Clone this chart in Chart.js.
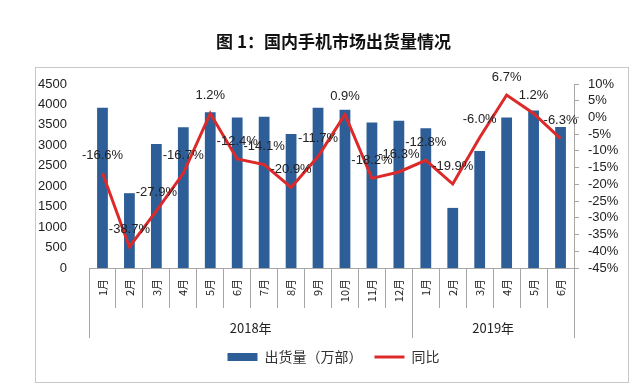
<!DOCTYPE html>
<html>
<head>
<meta charset="utf-8">
<script src="https://cdn.jsdelivr.net/npm/chart.js@4/dist/chart.umd.min.js"></script>
<style>
  html, body { margin: 0; padding: 0; background: #fff; }
  #wrap { width: 643px; height: 387px; position: relative; }
</style>
</head>
<body>
<div id="wrap"><canvas id="chart"></canvas></div>
<script>
// months on the category axis, grouped by year
const months = ["1月", "2月", "3月", "4月", "5月", "6月", "7月", "8月", "9月", "10月", "11月", "12月",
  "1月", "2月", "3月", "4月", "5月", "6月"];
const years = ["2018年", "2019年"];
const yearSpans = [12, 6];

// shipments (10k units) and year-on-year change (%)
const shipments = [3920, 1830, 3030, 3440, 3810, 3680, 3700, 3280, 3920, 3870, 3560, 3600,
  3420, 1470, 2860, 3680, 3850, 3450];
const yoy = [-16.6, -38.7, -27.9, -16.7, 1.2, -12.4, -14.1, -20.9, -11.7, 0.9, -18.2, -16.3,
  -12.8, -19.9, -6.0, 6.7, 1.2, -6.3];

const leftTicks = { min: 0, max: 4500, step: 500 };
const rightTicks = { min: -45, max: 10, step: 5 };

const BAR = "#2e5e98";
const RED = "#dc2a2a";
const TXT = "#222";
const AXIS = "#a6a6a6";
const FONT = "'Liberation Sans', 'Noto Sans CJK SC', sans-serif";
const CJK = "'Noto Sans CJK SC', 'Liberation Sans', sans-serif";

// outer frame, long separators, year labels and line value labels
const decor = {
  id: "decor",
  beforeDraw(chart) {
    const { ctx, width, height } = chart;
    ctx.save();
    ctx.strokeStyle = "#c8c8c8";
    ctx.lineWidth = 1;
    ctx.strokeRect(35.5, 67.5, width - 50, height - 72);
    ctx.restore();
  },
  afterDatasetsDraw(chart) {
    const { ctx } = chart;
    const x = chart.scales.x;
    const bottom = chart.chartArea.bottom;
    const step = x.getPixelForValue(1) - x.getPixelForValue(0);

    // year group separators and labels
    ctx.save();
    ctx.strokeStyle = AXIS;
    ctx.lineWidth = 1;
    ctx.fillStyle = TXT;
    ctx.font = "13px " + CJK;
    ctx.textAlign = "center";
    ctx.textBaseline = "middle";
    let start = 0;
    const edges = [start];
    years.forEach((y, i) => {
      const end = start + yearSpans[i];
      edges.push(end);
      const x0 = x.getPixelForValue(start) - step / 2;
      const x1 = x.getPixelForValue(end - 1) + step / 2;
      ctx.fillText(y, (x0 + x1) / 2, bottom + 60);
      start = end;
    });
    edges.forEach((e) => {
      const px = Math.round(x.getPixelForValue(e) - step / 2) + 0.5;
      ctx.beginPath();
      ctx.moveTo(px, bottom);
      ctx.lineTo(px, bottom + 70);
      ctx.stroke();
    });
    ctx.restore();

    // value labels above the line points
    const meta = chart.getDatasetMeta(1);
    ctx.save();
    ctx.fillStyle = TXT;
    ctx.font = "13px " + FONT;
    ctx.textAlign = "center";
    ctx.textBaseline = "middle";
    meta.data.forEach((pt, i) => {
      ctx.fillText(yoy[i].toFixed(1) + "%", pt.x, pt.y - 18);
    });
    ctx.restore();
  }
};

new Chart(document.getElementById("chart"), {
  data: {
    labels: months,
    datasets: [
      {
        type: "bar",
        label: "出货量（万部）",
        data: shipments,
        backgroundColor: BAR,
        barPercentage: 0.4,
        categoryPercentage: 1,
        yAxisID: "y",
        order: 2,
        pointStyle: "rect"
      },
      {
        type: "line",
        label: "同比",
        data: yoy,
        borderColor: RED,
        backgroundColor: RED,
        borderWidth: 3,
        pointRadius: 0,
        tension: 0,
        yAxisID: "y1",
        order: 1,
        pointStyle: "line"
      }
    ]
  },
  options: {
    responsive: true,
    maintainAspectRatio: false,
    animation: false,
    layout: { padding: { left: 0, right: -24, top: 0, bottom: 13 } },
    plugins: {
      title: {
        display: true,
        text: "图 1：国内手机市场出货量情况",
        color: "#111",
        font: { family: CJK, size: 17, weight: "bold" },
        padding: { top: 31, bottom: 32.6 }
      },
      legend: {
        position: "bottom",
        labels: {
          usePointStyle: true,
          pointStyleWidth: 30,
          boxHeight: 8,
          color: "#333",
          padding: 12,
          font: { family: CJK, size: 14 },
          sort: (a, b) => a.datasetIndex - b.datasetIndex
        }
      },
      tooltip: { enabled: false }
    },
    scales: {
      x: {
        offset: true,
        grid: { offset: true, drawOnChartArea: false, tickLength: 40, color: AXIS },
        border: { color: AXIS },
        ticks: {
          minRotation: 90,
          maxRotation: 90,
          autoSkip: false,
          padding: -29,
          color: TXT,
          font: { family: CJK, size: 11 }
        },
        afterFit: (s) => { s.height = 70; }
      },
      y: {
        position: "left",
        min: leftTicks.min,
        max: leftTicks.max,
        grid: { display: false },
        border: { display: false },
        ticks: {
          stepSize: leftTicks.step,
          autoSkip: false,
          padding: 14,
          color: TXT,
          font: { family: FONT, size: 13 },
          callback: (v) => String(v)
        },
        afterFit: (s) => { s.width = 89; }
      },
      y1: {
        position: "right",
        min: rightTicks.min,
        max: rightTicks.max,
        grid: { drawOnChartArea: false, tickLength: 5, color: AXIS },
        border: { color: AXIS },
        ticks: {
          stepSize: rightTicks.step,
          autoSkip: false,
          padding: 9,
          color: TXT,
          font: { family: FONT, size: 13 },
          callback: (v) => v + "%"
        },
        afterFit: (s) => { s.width = 93; }
      }
    }
  },
  plugins: [decor]
});
</script>
</body>
</html>
